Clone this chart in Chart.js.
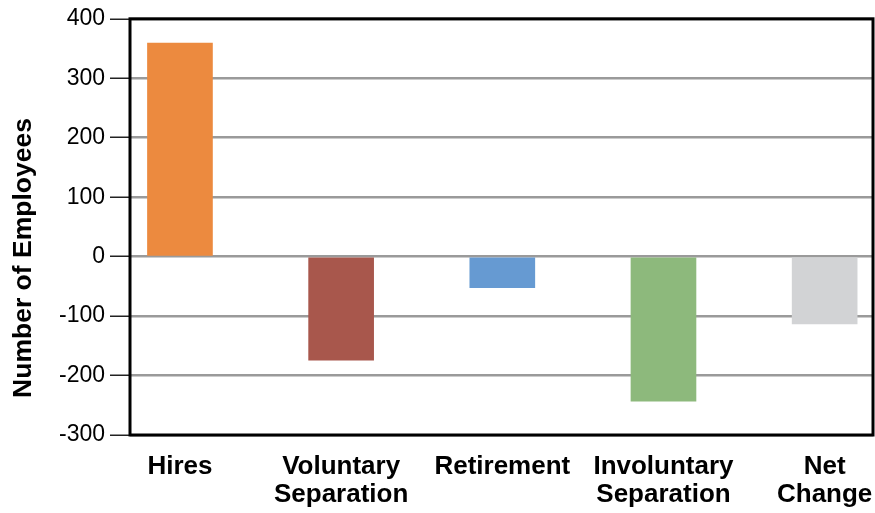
<!DOCTYPE html>
<html>
<head>
<meta charset="utf-8">
<title>Number of Employees</title>
<script src="https://cdn.jsdelivr.net/npm/chart.js@4/dist/chart.umd.min.js"></script>
<style>
    html, body { margin: 0; padding: 0; background: #fff; }
    #chart { display: block; }
</style>
</head>
<body>
<canvas id="chart" width="875" height="513"></canvas>
<script>
'use strict';

// data
const categories = [
    ['Hires'],
    ['Voluntary', 'Separation'],
    ['Retirement'],
    ['Involuntary', 'Separation'],
    ['Net', 'Change']
];
const employees = [359, -174, -52, -243, -113];
const barColors = ['#ec8a3f', '#a8574c', '#669ad2', '#8db97c', '#d2d3d5'];
const yTicks = [-300, -200, -100, 0, 100, 200, 300, 400];
const yTitle = 'Number of Employees';

Chart.defaults.font.family = '"Liberation Sans", Arial, Helvetica, sans-serif';
Chart.defaults.color = '#000';

// box round the plot and the rotated axis title
const frame = {
    id: 'frame',
    afterDraw(chart) {
        const { ctx, chartArea: a } = chart;
        ctx.save();
        ctx.strokeStyle = '#000';
        ctx.lineWidth = 3;
        ctx.strokeRect(a.left, a.top, a.right - a.left, a.bottom - a.top);

        ctx.translate(24, 258);
        ctx.rotate(-Math.PI / 2);
        ctx.font = 'bold 26.5px "Liberation Sans", Arial, sans-serif';
        ctx.fillStyle = '#000';
        ctx.textAlign = 'center';
        ctx.textBaseline = 'middle';
        ctx.fillText(yTitle, 0, 0);
        ctx.restore();
    }
};

const cvs = document.getElementById('chart');

new Chart(cvs, {
    type: 'bar',
    data: {
        datasets: [{
            data: employees.map((v, i) => ({ x: i, y: v })),
            backgroundColor: barColors,
            borderWidth: 0,
            barThickness: 65
        }]
    },
    options: {
        responsive: false,
        animation: false,
        layout: {
            padding: { top: 18, right: 2, bottom: 0, left: 0 }
        },
        plugins: {
            legend: { display: false },
            tooltip: { enabled: false }
        },
        scales: {
            x: {
                type: 'linear',
                min: -0.31,
                max: 4.3,
                offset: false,
                border: { display: false },
                grid: { display: false, drawTicks: false },
                afterBuildTicks: (scale) => {
                    scale.ticks = categories.map((_, i) => ({ value: i }));
                },
                afterFit: (scale) => {
                    scale.height = 78;
                    scale.paddingLeft = 0;
                    scale.paddingRight = 0;
                },
                ticks: {
                    autoSkip: false,
                    maxRotation: 0,
                    padding: 18,
                    font: { size: 26, weight: 'bold', lineHeight: 1.08 },
                    callback: (v) => categories[v]
                }
            },
            y: {
                min: -300,
                max: 400,
                border: { display: false },
                afterBuildTicks: (scale) => {
                    scale.ticks = yTicks.map((v) => ({ value: v }));
                },
                afterFit: (scale) => {
                    scale.width = 130;
                },
                grid: {
                    color: '#9a9a9a',
                    lineWidth: 2.5,
                    drawTicks: true,
                    tickLength: 20,
                    tickColor: '#222',
                    tickWidth: 1.5
                },
                ticks: {
                    padding: 5,
                    font: { size: 23 }
                }
            }
        }
    },
    plugins: [frame]
});
</script>
</body>
</html>
